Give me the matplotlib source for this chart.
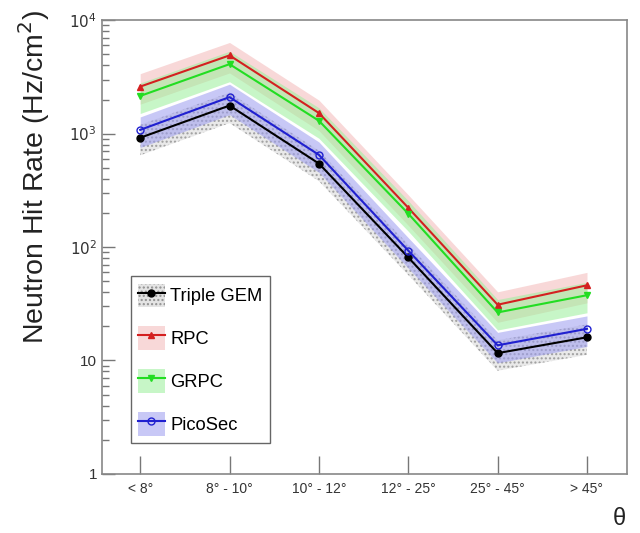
import numpy as np
import matplotlib
matplotlib.use("Agg")
import matplotlib.pyplot as plt
from matplotlib.patches import Patch
from matplotlib.lines import Line2D

plt.rcParams['font.family'] = ['Liberation Sans', 'DejaVu Sans']

# theta bins
cats = ["< 8°", "8° - 10°", "10° - 12°", "12° - 25°", "25° - 45°", "> 45°"]

# hit rates (Hz/cm2)
gem = [920, 1770, 545, 81, 11.6, 16]
rpc = [2600, 4900, 1520, 222, 31, 46]
grpc = [2150, 4100, 1300, 197, 26.5, 37.6]
pico = [1080, 2100, 650, 93, 13.6, 19]

# relative error of the bands
relErr = 0.3

x = np.arange(len(cats))

fig = plt.figure(figsize=(6.4, 5.33), dpi=100)
ax = fig.add_axes([0.159, 0.111, 0.821, 0.851])

series = [
    ("Triple GEM", gem, 'black', '#b0b0b0', 'o', 'full', '....'),
    ("RPC", rpc, '#d42020', '#f4b8b8', '^', 'full', None),
    ("GRPC", grpc, '#22dd22', '#9af09a', 'v', 'full', None),
    ("PicoSec", pico, '#2020d0', '#9c9cf0', 'o', 'none', None),
]

handles = []
for name, vals, col, fcol, mk, fs, hat in series:
    v = np.array(vals)
    if hat:
        ax.fill_between(x, v*(1-relErr), v*(1+relErr), facecolor='#e4e4e4',
                        edgecolor='#909090', hatch=hat, linewidth=0, alpha=0.8)
    else:
        ax.fill_between(x, v*(1-relErr), v*(1+relErr), color=fcol, alpha=0.55, linewidth=0)
    ax.plot(x, v, color=col, lw=1.5, marker=mk, ms=5, fillstyle=fs,
            markeredgecolor=col, markerfacecolor=col if fs == 'full' else 'none')
    if hat:
        p = Patch(facecolor='#e4e4e4', edgecolor='#909090', hatch=hat, linewidth=0)
    else:
        p = Patch(facecolor=fcol, alpha=0.55, linewidth=0)
    l = Line2D([], [], color=col, lw=1.5, marker=mk, ms=5, fillstyle=fs,
               markerfacecolor=col if fs == 'full' else 'none')
    handles.append(((p, l), name))

ax.set_yscale('log')
ax.set_ylim(1, 1e4)
ax.set_xlim(-0.43, 5.45)
ax.set_xticks(x)
ax.set_xticklabels(cats, fontsize=10, color='#333333')
ax.set_yticks([1, 10, 100, 1000, 10000])
ax.set_yticklabels(['1', '10', '$10^2$', '$10^3$', '$10^4$'], fontsize=11, color='#333333')
ax.tick_params(axis='y', which='major', direction='in', length=9, width=1, color='#777777', right=False)
ax.tick_params(axis='y', which='minor', direction='in', length=5, width=1, color='#777777', right=False)
ax.tick_params(axis='x', which='major', direction='in', length=13, width=1, color='#777777', top=False, pad=6)
ax.tick_params(axis='x', which='minor', bottom=False)
for s in ax.spines.values():
    s.set_color('#888888')
    s.set_linewidth(1.2)

leg = ax.legend([h for h, n in handles], [n for h, n in handles],
                loc='lower left', bbox_to_anchor=(0.055, 0.068), borderaxespad=0,
                fontsize=13.2, handlelength=1.45, handleheight=1.6, labelspacing=1.05,
                handletextpad=0.3, borderpad=0.4, fancybox=False, framealpha=1,
                edgecolor='#666666')
leg.get_frame().set_linewidth(1.0)

fig.text(0.053, 0.668, "Neutron Hit Rate (Hz/cm$^2$)", rotation=90, fontsize=20.5,
         ha='center', va='center', color='#222222')
fig.text(0.967, 0.005, "θ", fontsize=17, ha='center', va='bottom', color='#222222')

fig.savefig("out.png", dpi=100)
